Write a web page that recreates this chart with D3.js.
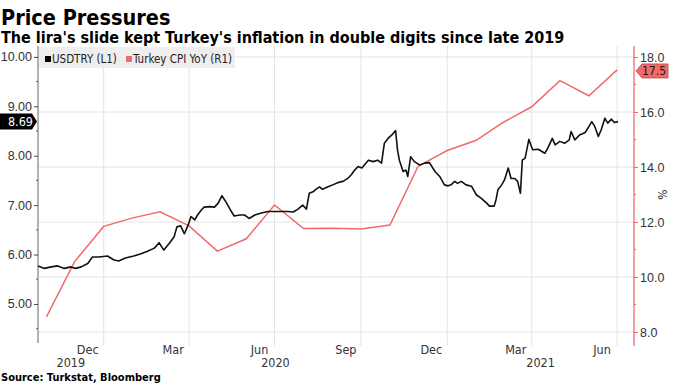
<!DOCTYPE html>
<html>
<head>
<meta charset="utf-8">
<script src="https://cdn.jsdelivr.net/npm/d3@7"></script>
<style>
  body { margin: 0; background: #fff; }
  svg { display: block; font-family: "DejaVu Sans", sans-serif; font-stretch: condensed; }
  .grid line { stroke: #e4e4e4; stroke-width: 1; }
  .tick text { fill: #333; }
</style>
</head>
<body>
<div id="chart"></div>
<script>
// USDTRY (left axis) vs Turkey CPI YoY (right axis)

// Turkey CPI YoY, one value per month (plotted at month end)
const cpiMonths = ["2019-10", "2019-11", "2019-12", "2020-01", "2020-02", "2020-03", "2020-04",
    "2020-05", "2020-06", "2020-07", "2020-08", "2020-09", "2020-10", "2020-11", "2020-12",
    "2021-01", "2021-02", "2021-03", "2021-04", "2021-05", "2021-06"];
const cpiValues = [8.55, 10.56, 11.84, 12.15, 12.37, 11.86, 10.94, 11.39, 12.62, 11.76, 11.77,
    11.75, 11.89, 14.03, 14.60, 14.97, 15.61, 16.19, 17.14, 16.59, 17.53];

// USDTRY
const usdDates = ["2019-10-23", "2019-10-30", "2019-11-06", "2019-11-13", "2019-11-20", "2019-11-27",
    "2019-12-02", "2019-12-08", "2019-12-15", "2019-12-20", "2019-12-27", "2020-01-05", "2020-01-12",
    "2020-01-17", "2020-01-24", "2020-02-02", "2020-02-09", "2020-02-16", "2020-02-24", "2020-02-29",
    "2020-03-05", "2020-03-11", "2020-03-16", "2020-03-19", "2020-03-23", "2020-03-27", "2020-03-31",
    "2020-04-03", "2020-04-07", "2020-04-10", "2020-04-14", "2020-04-17", "2020-04-23", "2020-04-28",
    "2020-05-02", "2020-05-06", "2020-05-11", "2020-05-16", "2020-05-19", "2020-05-25", "2020-05-30",
    "2020-06-04", "2020-06-10", "2020-06-17", "2020-06-24", "2020-07-01", "2020-07-08", "2020-07-15",
    "2020-07-21", "2020-07-26", "2020-07-31", "2020-08-04", "2020-08-07", "2020-08-11", "2020-08-14",
    "2020-08-18", "2020-08-21", "2020-08-27", "2020-09-01", "2020-09-07", "2020-09-12", "2020-09-17",
    "2020-09-21", "2020-09-24", "2020-09-28", "2020-10-02", "2020-10-09", "2020-10-14", "2020-10-19",
    "2020-10-23", "2020-10-26", "2020-10-30", "2020-11-03", "2020-11-07", "2020-11-09", "2020-11-11",
    "2020-11-15", "2020-11-18", "2020-11-20", "2020-11-23", "2020-11-27", "2020-12-03", "2020-12-08",
    "2020-12-13", "2020-12-19", "2020-12-24", "2020-12-29", "2021-01-02", "2021-01-05", "2021-01-09",
    "2021-01-12", "2021-01-16", "2021-01-21", "2021-01-27", "2021-02-01", "2021-02-06", "2021-02-12",
    "2021-02-15", "2021-02-20", "2021-02-22", "2021-02-24", "2021-02-28", "2021-03-03", "2021-03-07",
    "2021-03-10", "2021-03-14", "2021-03-17", "2021-03-20", "2021-03-22", "2021-03-25", "2021-03-29",
    "2021-04-02", "2021-04-08", "2021-04-15", "2021-04-18", "2021-04-23", "2021-04-26", "2021-05-01",
    "2021-05-06", "2021-05-11", "2021-05-13", "2021-05-17", "2021-05-22", "2021-05-28", "2021-05-31",
    "2021-06-04", "2021-06-07", "2021-06-11", "2021-06-14", "2021-06-18", "2021-06-21", "2021-06-25",
    "2021-06-28", "2021-07-02"];
const usdValues = [5.77, 5.72, 5.75, 5.77, 5.72, 5.75,
    5.72, 5.75, 5.82, 5.95, 5.95, 5.97, 5.89,
    5.87, 5.93, 5.97, 6.01, 6.06, 6.13, 6.24,
    6.09, 6.23, 6.36, 6.56, 6.58, 6.42, 6.60,
    6.77, 6.70, 6.80, 6.90, 6.96, 6.97, 6.96,
    7.04, 7.19, 7.04, 6.87, 6.78, 6.80, 6.80,
    6.73, 6.80, 6.84, 6.87, 6.87, 6.87, 6.87,
    6.86, 6.92, 7.00, 6.92, 7.24, 7.27, 7.32,
    7.37, 7.32, 7.37, 7.41, 7.46, 7.48, 7.54,
    7.62, 7.70, 7.78, 7.75, 7.91, 7.88, 7.91,
    7.85, 8.25, 8.35, 8.42, 8.51, 8.12, 7.91,
    7.68, 7.71, 7.58, 7.98, 7.88, 7.81, 7.85,
    7.86, 7.68, 7.58, 7.41, 7.39, 7.41, 7.48,
    7.44, 7.48, 7.41, 7.38, 7.21, 7.14, 7.04,
    6.98, 6.98, 7.11, 7.31, 7.41, 7.51, 7.75,
    7.54, 7.54, 7.48, 7.24, 7.91, 7.95, 8.33,
    8.12, 8.13, 8.05, 8.15, 8.35, 8.22, 8.29,
    8.25, 8.32, 8.49, 8.32, 8.42, 8.47, 8.56,
    8.69, 8.60, 8.39, 8.52, 8.76, 8.66, 8.74,
    8.67, 8.69];

const leftTicks = [5, 6, 7, 8, 9, 10];
const leftMinor = [4.5, 5.5, 6.5, 7.5, 8.5, 9.5];
const rightTicks = [8, 10, 12, 14, 16, 18];
const rightMinor = [9, 11, 13, 15, 17];
const monthLabelDates = ["2019-12-15", "2020-03-15", "2020-06-15", "2020-09-15", "2020-12-15", "2021-03-15", "2021-06-15"];
const quarterLines = ["2020-01-01", "2020-04-01", "2020-07-01", "2020-10-01", "2021-01-01", "2021-04-01", "2021-07-01"];
const years = [2019, 2020, 2021];

const title = "Price Pressures";
const subtitle = "The lira's slide kept Turkey's inflation in double digits since late 2019";
const source = "Source: Turkstat, Bloomberg";

const width = 683, height = 384;
const margin = {top: 46, right: 49, bottom: 41, left: 38};

const parse = d3.timeParse("%Y-%m-%d");
const parseMonth = d3.timeParse("%Y-%m");

const usd = usdDates.map((d, i) => ({date: parse(d), value: usdValues[i]}));
const cpi = cpiMonths.map((m, i) => ({date: d3.timeMonth.offset(parseMonth(m), 1), value: cpiValues[i]}));

const cpiColor = "#ef6b6b";

const svg = d3.select("#chart").append("svg")
    .attr("width", width)
    .attr("height", height);

const x = d3.scaleTime()
    .domain([parse("2019-10-23"), parse("2021-07-19")])
    .range([margin.left, width - margin.right]);
const yL = d3.scaleLinear()
    .domain([4.21, 10.22])
    .range([height - margin.bottom, margin.top]);
const yR = d3.scaleLinear()
    .domain([7.6, 18.4])
    .range([height - margin.bottom, margin.top]);

const x0 = margin.left, x1 = width - margin.right;
const y0 = margin.top, y1 = height - margin.bottom;

// gridlines
let grid = svg.append("g").attr("class", "grid");
grid.selectAll(".h").data(rightTicks).enter().append("line")
    .attr("x1", x0).attr("x2", x1)
    .attr("y1", d => yR(d)).attr("y2", d => yR(d));
grid.selectAll(".v").data(quarterLines).enter().append("line")
    .attr("x1", d => x(parse(d))).attr("x2", d => x(parse(d)))
    .attr("y1", y0).attr("y2", y1 + 3);

// left axis
svg.append("g")
    .attr("transform", "translate(" + x0 + ",0)")
    .call(d3.axisLeft(yL).tickValues(leftTicks).tickFormat(d3.format(".2f")).tickSize(4).tickSizeOuter(0).tickPadding(2))
    .call(g => g.select(".domain").attr("stroke", "#666").attr("d", "M0," + y0 + "V" + y1))
    .call(g => g.selectAll(".tick line").attr("stroke", "#444"))
    .call(g => g.selectAll("text").style("font-size", "12.5px"));
svg.append("g").selectAll("line").data(leftMinor).enter().append("line")
    .attr("x1", x0 - 2).attr("x2", x0)
    .attr("y1", d => yL(d)).attr("y2", d => yL(d))
    .attr("stroke", "#666");

// right axis
svg.append("g")
    .attr("transform", "translate(" + x1 + ",0)")
    .call(d3.axisRight(yR).tickValues(rightTicks).tickFormat(d3.format(".1f")).tickSize(4).tickSizeOuter(0).tickPadding(2))
    .call(g => g.select(".domain").attr("stroke", cpiColor).attr("stroke-width", 1.3).attr("d", "M0," + y0 + "V" + (y1 + 3)))
    .call(g => g.selectAll(".tick line").attr("stroke", cpiColor))
    .call(g => g.selectAll("text").style("font-size", "12.5px"));
svg.append("g").selectAll("line").data(rightMinor).enter().append("line")
    .attr("x1", x1).attr("x2", x1 + 2)
    .attr("y1", d => yR(d)).attr("y2", d => yR(d))
    .attr("stroke", cpiColor);

svg.append("text")
    .attr("transform", "translate(" + (x1 + 24) + "," + yR(13) + ") rotate(90)")
    .attr("text-anchor", "middle")
    .style("font-size", "12px")
    .attr("fill", "#333")
    .text("%");

// x labels: months centred mid-month, years centred in the visible part of each year
svg.append("g").selectAll("text").data(monthLabelDates).enter().append("text")
    .attr("x", d => x(parse(d)))
    .attr("y", y1 + 11)
    .attr("text-anchor", "middle")
    .style("font-size", "12.5px")
    .attr("fill", "#333")
    .text(d => d3.timeFormat("%b")(parse(d)));
svg.append("g").selectAll("text").data(years).enter().append("text")
    .attr("x", d => {
        let a = d3.max([x.domain()[0], new Date(d, 0, 1)]);
        let b = d3.min([x.domain()[1], new Date(d + 1, 0, 1)]);
        return (x(a) + x(b)) / 2;
    })
    .attr("y", y1 + 24)
    .attr("text-anchor", "middle")
    .style("font-size", "12.5px")
    .attr("fill", "#333")
    .text(d => d);

// lines
svg.append("path")
    .datum(cpi)
    .attr("fill", "none")
    .attr("stroke", cpiColor)
    .attr("stroke-width", 1.5)
    .attr("d", d3.line().x(d => x(d.date)).y(d => yR(d.value)));

svg.append("path")
    .datum(usd)
    .attr("fill", "none")
    .attr("stroke", "#111")
    .attr("stroke-width", 1.6)
    .attr("stroke-linejoin", "round")
    .attr("d", d3.line().x(d => x(d.date)).y(d => yL(d.value)));

// legend
let legend = svg.append("g");
legend.append("rect")
    .attr("x", x0 + 1).attr("y", y0 + 1)
    .attr("width", 196).attr("height", 21)
    .attr("fill", "#ececec").attr("opacity", 0.9);
legend.append("rect").attr("x", 45).attr("y", 56).attr("width", 6).attr("height", 6).attr("fill", "#000");
legend.append("text").attr("x", 52).attr("y", 62.5).style("font-size", "11.5px").attr("fill", "#222").text("USDTRY (L1)");
legend.append("rect").attr("x", 126).attr("y", 56).attr("width", 6).attr("height", 6).attr("fill", cpiColor);
legend.append("text").attr("x", 133).attr("y", 62.5).style("font-size", "11.5px").attr("fill", "#222").text("Turkey CPI YoY (R1)");

// last value tags
let lastUsd = usd[usd.length - 1];
let ly = yL(lastUsd.value);
svg.append("path")
    .attr("d", "M0," + (ly - 8) + "H32L37," + ly + "L32," + (ly + 8) + "H0Z")
    .attr("fill", "#000");
svg.append("text")
    .attr("x", 33).attr("y", ly + 4.5)
    .attr("text-anchor", "end")
    .style("font-size", "12.5px")
    .attr("fill", "#fff")
    .text(lastUsd.value.toFixed(2));

let lastCpi = cpi[cpi.length - 1];
let ry = yR(lastCpi.value) + 1;
svg.append("path")
    .attr("d", "M" + (x1 + 2) + "," + ry + "L" + (x1 + 8) + "," + (ry - 7) + "H668V" + (ry + 7) + "H" + (x1 + 8) + "Z")
    .attr("fill", "#f26a6a").attr("stroke", "#c94040").attr("stroke-width", 0.8);
svg.append("text")
    .attr("x", 666).attr("y", ry + 4.5)
    .attr("text-anchor", "end")
    .style("font-size", "12px")
    .attr("fill", "#1a1a1a")
    .text(lastCpi.value.toFixed(1));

// titles
svg.append("text")
    .attr("x", 1).attr("y", 25)
    .style("font-size", "21.5px").style("font-weight", "bold")
    .attr("fill", "#000")
    .text(title);
svg.append("text")
    .attr("x", 1).attr("y", 43)
    .style("font-size", "16px").style("font-weight", "bold")
    .attr("fill", "#000")
    .text(subtitle);
svg.append("text")
    .attr("x", 1).attr("y", 380.5)
    .style("font-size", "11px").style("font-weight", "bold")
    .attr("fill", "#000")
    .text(source);
</script>
</body>
</html>
